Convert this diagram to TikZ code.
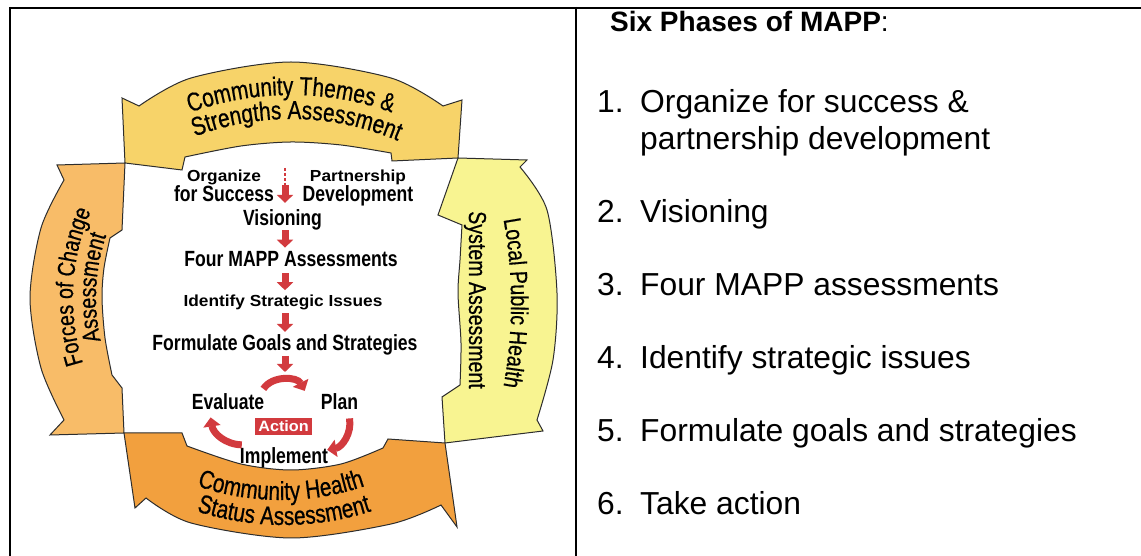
\documentclass[tikz,border=0pt]{standalone}
\usepackage{fontspec}
\setmainfont{Liberation Sans}
\newfontfamily\condb[FakeStretch=0.8]{Liberation Sans Bold}
\newfontfamily\condr[FakeStretch=0.8,FakeBold=0.6]{Liberation Sans}
\newfontfamily\wideb[FakeStretch=1.08]{Liberation Sans Bold}
\usetikzlibrary{arrows.meta,decorations.text,calc}
\definecolor{bandtop}{RGB}{247,211,105}
\definecolor{bandleft}{RGB}{248,188,104}
\definecolor{bandright}{RGB}{248,244,145}
\definecolor{bandbot}{RGB}{242,160,62}
\definecolor{mred}{RGB}{210,58,62}
\definecolor{edgec}{RGB}{45,45,45}
\tikzset{
  band/.style={draw=edgec, line width=1pt, line join=miter},
  bandlabel/.style 2 args={decorate, decoration={text along path, text align=center, text={|#1|#2}}},
  lbl/.style={inner sep=0pt, font=\condb\fontsize{22}{20}\selectfont},
  widelbl/.style={inner sep=0pt, font=\wideb\fontsize{16}{20}\selectfont},
  blockarrow/.style={draw=mred, line width=7pt, -{Triangle[width=16pt,length=8pt]}},
  cyclearrow/.style={draw=mred, line width=7pt, -{Triangle[width=17pt,length=9pt]}},
  reddash/.style={draw=mred, line width=1.6pt, dash pattern=on 3pt off 2pt},
  listtext/.style={anchor=base west, inner sep=0pt, font=\fontsize{31.8}{36.5}\selectfont},
}
\begin{document}
\begin{tikzpicture}[x=1pt,y=1pt]
\fill[white] (0,0) rectangle (1141,556);
\path[use as bounding box] (0,0) rectangle (1141,556);
% table frame
\draw[line width=2pt] (9,548) -- (1141,548);
\draw[line width=2pt] (10,549) -- (10,0);
\draw[line width=2pt] (576,549) -- (576,0);

% ---------- circular bands ----------
\begin{scope}[shift={(291,258)}]
  % top band
  \filldraw[band, fill=bandtop] plot[smooth] coordinates {(-152,192) (-100,220) (0,236) (100,220) (152,192)}
    -- (171,198) -- (167,140) -- (101,137)
    -- plot[smooth] coordinates {(100,145) (50,153) (0,156) (-50,152) (-106,141)}
    -- (-109,128) -- (-166,135) -- (-169,200) -- cycle;
  % left band
  \filldraw[band, fill=bandleft] plot[smooth] coordinates {(-227,-122) (-250,-70) (-261,0) (-250,70) (-227,118)}
    -- (-234,133) -- (-166,135) -- (-169,68)
    -- plot[smooth] coordinates {(-181,60) (-187,30) (-189,0) (-186,-40) (-179,-77)}
    -- (-169,-90) -- (-167,-135) -- (-241,-137) -- cycle;
  % right band
  \filldraw[band, fill=bandright] plot[smooth] coordinates {(229,131) (256,88) (266,5) (262,-62) (246,-122)}
    -- (252,-133) -- (154,-145) -- (151,-99)
    -- plot[smooth] coordinates {(169,-87) (170,-45) (167,5) (169,38) (171,73)}
    -- (147,83) -- (167,140) -- (236,138) -- cycle;
  % bottom band
  \filldraw[band, fill=bandbot] plot[smooth] coordinates {(150,-207) (100,-226) (0,-240) (-100,-225) (-145,-200)}
    -- (-156,-210) -- (-167,-135) -- (-109,-135)
    -- plot[smooth] coordinates {(-104,-148) (-50,-166) (0,-172) (50,-166) (92,-150)}
    -- (97,-141) -- (154,-145) -- (166,-229) -- cycle;

  % band labels
  \path[bandlabel={\condr\fontsize{26}{26}\selectfont}{Community Themes {\&}}]
    (0,-95) ++(125:298) arc[start angle=125, end angle=55, radius=298];
  \path[bandlabel={\condr\fontsize{26}{26}\selectfont}{Strengths Assessment}]
    (0,-93) ++(123.8:272) arc[start angle=123.8, end angle=53.8, radius=272];
  \path[bandlabel={\condr\fontsize{24.5}{24.5}\selectfont}{Forces of Change}]
    (0,0) ++(232:218) arc[start angle=232, end angle=122, radius=218];
  \path[bandlabel={\condr\fontsize{24.5}{24.5}\selectfont}{Assessment}]
    (0,0) ++(232:195) arc[start angle=232, end angle=122, radius=195];
  \path[bandlabel={\condr\fontsize{24.5}{24.5}\selectfont}{Local Public Health}]
    (-250,-5) ++(22:470) arc[start angle=22, end angle=-22, radius=470];
  \path[bandlabel={\condr\fontsize{24.5}{24.5}\selectfont}{System Assessment}]
    (178,128) -- (178,-132);
  \path[bandlabel={\condr\fontsize{26}{26}\selectfont}{Community Health}]
    (-10,58) ++(215:260) arc[start angle=215, end angle=325, radius=260];
  \path[bandlabel={\condr\fontsize{26}{26}\selectfont}{Status Assessment}]
    (-7,56) ++(215:283) arc[start angle=215, end angle=325, radius=283];
\end{scope}

% ---------- inner flow ----------
\node[align=center, anchor=north, inner sep=0pt, font=\condb\fontsize{22}{20}\selectfont] (org) at (224,386)
  {{\wideb\fontsize{16}{20}\selectfont Organize}\\for Success};
\node[align=center, anchor=north, inner sep=0pt, font=\condb\fontsize{22}{20}\selectfont] (part) at (358,386)
  {{\wideb\fontsize{16}{20}\selectfont Partnership}\\Development};
\node[lbl, anchor=base] (vis) at (282.5,330.5) {Visioning};
\node[lbl, anchor=base] (four) at (291,289) {Four MAPP Assessments};
\node[widelbl, anchor=base] (ident) at (283,249) {Identify Strategic Issues};
\node[lbl, anchor=base] (form) at (285,205) {Formulate Goals and Strategies};
\node[lbl, anchor=base] (eval) at (228,146) {Evaluate};
\node[lbl, anchor=base] (plan) at (339.5,146) {Plan};
\node[fill=mred, text=white, inner sep=0pt, minimum width=57pt, minimum height=17pt,
      font=\wideb\fontsize{15}{15}\selectfont] (act) at (283.5,129.5) {Action};
\node[lbl, anchor=base] (impl) at (284,92) {Implement};

\coordinate (ax) at (285,0);
\coordinate (pd) at (285,388);
\coordinate (pm) at (285,371);
\coordinate (cyc) at (285,184);
\draw[reddash] (pd) -- (pm);
\draw[blockarrow, shorten >=6.5pt] (pm) -- (vis.north -| ax);
\draw[blockarrow, shorten >=4pt] (vis.south -| ax) -- (four.north -| ax);
\draw[blockarrow, shorten <=6pt, shorten >=5pt] (four.south -| ax) -- (ident.north -| ax);
\draw[blockarrow, shorten <=2.5pt, shorten >=3pt] (ident.south -| ax) -- (form.north -| ax);
\draw[blockarrow] (form.south -| ax) -- (cyc);

% action cycle
\draw[cyclearrow] ($(eval.north east)+(-1,5)$) to[bend left=60] ($(plan.north west)+(-16,3)$);
\draw[cyclearrow] ($(plan.south)+(10,-8)$) to[bend left=45] ($(impl.north east)+(-1,-2)$);
\draw[cyclearrow] ($(impl.north west)+(2,3)$) to[bend left=40] ($(eval.south west)+(19,-7)$);

% ---------- right column ----------
\node[anchor=base west, inner sep=0pt, font=\fontsize{28}{32}\selectfont] (title) at (610,524)
  {\textbf{Six Phases of MAPP}:};
\node[listtext] (i1) at (597,443) {\begin{tabular}[t]{@{}p{43pt}@{}l@{}}1. & Organize for success \&\\ & partnership development\end{tabular}};
\node[listtext] (i2) at (597,333) {\makebox[43pt][l]{2.}Visioning};
\node[listtext] (i3) at (597,260) {\makebox[43pt][l]{3.}Four MAPP assessments};
\node[listtext] (i4) at (597,187) {\makebox[43pt][l]{4.}Identify strategic issues};
\node[listtext] (i5) at (597,114) {\makebox[43pt][l]{5.}Formulate goals and strategies};
\node[listtext] (i6) at (597,41) {\makebox[43pt][l]{6.}Take action};
\end{tikzpicture}
\end{document}
